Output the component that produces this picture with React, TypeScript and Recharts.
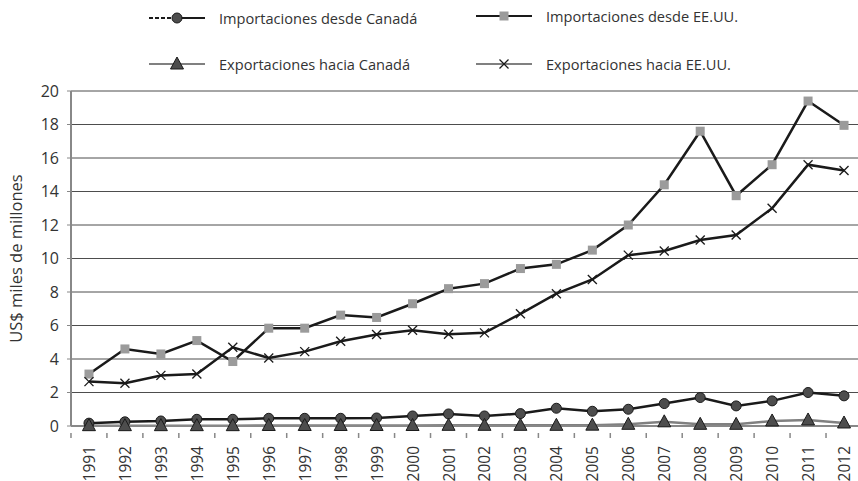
import { CartesianGrid, Line, LineChart, XAxis, YAxis } from "recharts";

const years = [
  "1991", "1992", "1993", "1994", "1995", "1996", "1997", "1998", "1999", "2000", "2001",
  "2002", "2003", "2004", "2005", "2006", "2007", "2008", "2009", "2010", "2011", "2012",
];

const impCanada = [
  0.17, 0.25, 0.3, 0.4, 0.4, 0.46, 0.46, 0.46, 0.48, 0.6, 0.72,
  0.6, 0.74, 1.06, 0.88, 1.0, 1.34, 1.7, 1.2, 1.5, 2.0, 1.8,
];
const impUS = [
  3.1, 4.6, 4.3, 5.1, 3.85, 5.84, 5.84, 6.62, 6.48, 7.3, 8.2,
  8.5, 9.4, 9.65, 10.5, 12.0, 14.4, 17.6, 13.75, 15.6, 19.4, 17.95,
];
const expCanada = [
  0.02, 0.02, 0.02, 0.02, 0.02, 0.03, 0.03, 0.03, 0.03, 0.03, 0.04,
  0.04, 0.04, 0.04, 0.05, 0.1, 0.25, 0.1, 0.1, 0.3, 0.36, 0.18,
];
const expUS = [
  2.65, 2.55, 3.02, 3.1, 4.7, 4.06, 4.44, 5.06, 5.46, 5.72, 5.48,
  5.56, 6.7, 7.9, 8.75, 10.2, 10.45, 11.1, 11.4, 13.0, 15.6, 15.25,
];
const yTicks = [0, 2, 4, 6, 8, 10, 12, 14, 16, 18, 20];

const data = years.map((year, i) => ({
  year,
  impCanada: impCanada[i],
  impUS: impUS[i],
  expCanada: expCanada[i],
  expUS: expUS[i],
}));

const FONT = "'Open Sans', sans-serif";
const BAND = 36;

function CircleDot(p: any) {
  return <circle key={p.index} cx={p.cx} cy={p.cy} r={5} fill="#4d4d4d" stroke="#1a1a1a" strokeWidth={1} />;
}
function SquareDot(p: any) {
  return <rect key={p.index} x={p.cx - 4.5} y={p.cy - 4.5} width={9} height={9} fill="#9b9b9b" />;
}
function TriangleDot(p: any) {
  const { cx, cy } = p;
  return (
    <polygon
      key={p.index}
      points={`${cx},${cy - 7} ${cx - 6.5},${cy + 5} ${cx + 6.5},${cy + 5}`}
      fill="#4d4d4d"
      stroke="#1a1a1a"
      strokeWidth={1}
    />
  );
}
function CrossDot(p: any) {
  const { cx, cy } = p;
  return (
    <g key={p.index} stroke="#1a1a1a" strokeWidth={1.3}>
      <line x1={cx - 4.5} y1={cy - 4.5} x2={cx + 4.5} y2={cy + 4.5} />
      <line x1={cx - 4.5} y1={cy + 4.5} x2={cx + 4.5} y2={cy - 4.5} />
    </g>
  );
}

// year labels sit under each band, ticks fall between bands
function YearTick(p: any) {
  const { x, y, payload, index } = p;
  const top = y - 1;
  const ty = y + 12;
  return (
    <g>
      <line x1={x - BAND / 2} y1={top} x2={x - BAND / 2} y2={top + 5} stroke="#888" strokeWidth={1.5} />
      {index === years.length - 1 && (
        <line x1={x + BAND / 2} y1={top} x2={x + BAND / 2} y2={top + 5} stroke="#888" strokeWidth={1.5} />
      )}
      <text
        x={x}
        y={ty}
        transform={`rotate(-90, ${x}, ${ty})`}
        textAnchor="end"
        dominantBaseline="central"
        fontSize={15.5}
        fontFamily={FONT}
        fill="#333"
      >
        {payload.value}
      </text>
    </g>
  );
}

function LegendItem({ x, y, label, kind }: { x: number; y: number; label: string; kind: string }) {
  const lineColor = kind === "tri" || kind === "cross" ? "#808080" : "#1a1a1a";
  const mx = 30;
  return (
    <div style={{ position: "absolute", left: x, top: y - 10, height: 20, display: "flex", alignItems: "center" }}>
      <svg width={60} height={20} style={{ display: "block" }}>
        {kind === "circle" ? (
          <>
            <line x1={2} y1={10} x2={26} y2={10} stroke="#1a1a1a" strokeWidth={2} strokeDasharray="4 2" />
            <line x1={30} y1={10} x2={58} y2={10} stroke="#1a1a1a" strokeWidth={2} />
          </>
        ) : (
          <line x1={2} y1={10} x2={58} y2={10} stroke={lineColor} strokeWidth={2} />
        )}
        {kind === "circle" && <CircleDot cx={mx} cy={10} index={0} />}
        {kind === "square" && <SquareDot cx={mx} cy={10} index={0} />}
        {kind === "tri" && <TriangleDot cx={mx} cy={10} index={0} />}
        {kind === "cross" && <CrossDot cx={mx} cy={10} index={0} />}
      </svg>
      <span style={{ marginLeft: 12, fontFamily: FONT, fontSize: 14.6, color: "#333", whiteSpace: "nowrap" }}>{label}</span>
    </div>
  );
}

export default function App() {
  return (
    <div style={{ position: "absolute", left: 0, top: 0, width: 858, height: 481, overflow: "hidden", background: "#fff" }}>
      <LineChart
        width={866}
        height={481}
        data={data}
        margin={{ top: 91, right: 4, bottom: 0, left: 0 }}
      >
        <CartesianGrid vertical={false} stroke="#4d4d4d" strokeWidth={1} />
        <XAxis
          dataKey="year"
          scale="band"
          height={55}
          interval={0}
          axisLine={{ stroke: "#888", strokeWidth: 2 }}
          tickLine={false}
          tick={<YearTick />}
        />
        <YAxis
          domain={[0, 20]}
          ticks={yTicks}
          width={71}
          axisLine={{ stroke: "#888", strokeWidth: 2 }}
          tickLine={{ stroke: "#888" }}
          tickSize={4}
          tickMargin={8}
          tick={{ fontSize: 16, fontFamily: FONT, fill: "#333" }}
          label={{
            value: "US$ miles de millones",
            angle: -90,
            position: "insideLeft",
            offset: 16,
            style: { fontSize: 16.5, fontFamily: FONT, fill: "#333", textAnchor: "middle" },
          }}
        />
        <Line dataKey="impCanada" stroke="#1a1a1a" strokeWidth={2.5} dot={CircleDot} isAnimationActive={false} />
        <Line dataKey="impUS" stroke="#1a1a1a" strokeWidth={2.5} dot={SquareDot} isAnimationActive={false} />
        <Line dataKey="expCanada" stroke="#808080" strokeWidth={2.5} dot={TriangleDot} isAnimationActive={false} />
        <Line dataKey="expUS" stroke="#1a1a1a" strokeWidth={2.5} dot={CrossDot} isAnimationActive={false} />
      </LineChart>
      <LegendItem x={147} y={18} label="Importaciones desde Canadá" kind="circle" />
      <LegendItem x={474} y={16} label="Importaciones desde EE.UU." kind="square" />
      <LegendItem x={147} y={64} label="Exportaciones hacia Canadá" kind="tri" />
      <LegendItem x={474} y={64} label="Exportaciones hacia EE.UU." kind="cross" />
    </div>
  );
}
